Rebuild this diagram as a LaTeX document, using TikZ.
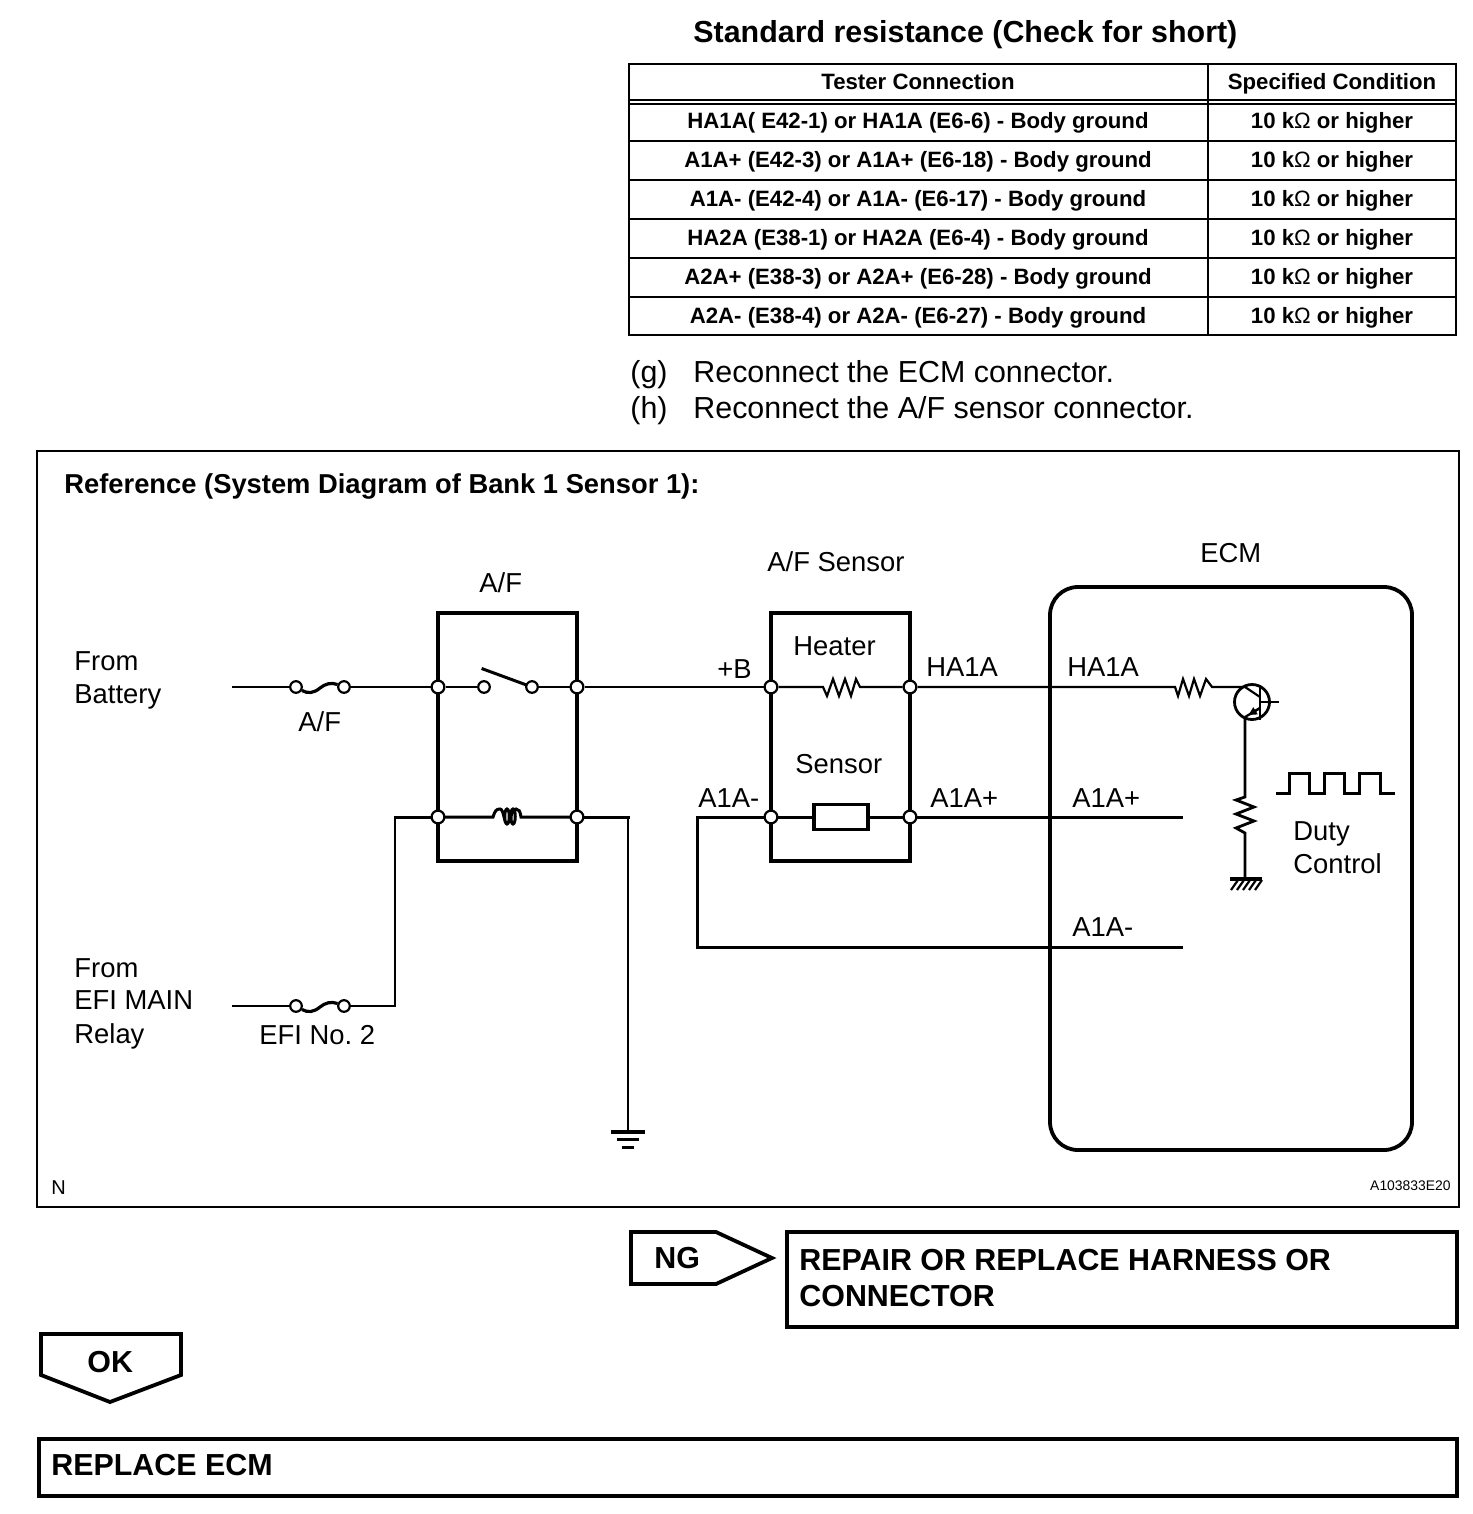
\documentclass[tikz,border=0pt]{standalone}
\usepackage{fontspec}
\setmainfont{Liberation Sans}
\usetikzlibrary{arrows.meta}
\frenchspacing
\tikzset{
  x=0.5pt,y=-0.5pt,
  wire/.style={line width=1.1pt,line join=miter},
  hwire/.style={line width=1.5pt,line join=miter,line cap=rect},
  frame/.style={line width=1.35pt},
  heavy/.style={line width=1.9pt,line join=miter},
  term/.style={circle,draw,fill=white,line width=1.1pt,minimum size=6.4pt,inner sep=0pt},
  lbl/.style={anchor=base west,inner sep=0pt,font=\fontsize{13.7}{16}\selectfont},
  tbl/.style={anchor=base,inner sep=0pt,font=\bfseries\fontsize{11.1}{13}\selectfont},
  para/.style={anchor=base west,inner sep=0pt,font=\fontsize{15.2}{18}\selectfont},
  bigb/.style={anchor=base west,inner sep=0pt,font=\bfseries\fontsize{15.2}{18}\selectfont},
}
\newcommand{\ohm}{{\mdseries Ω}}
\begin{document}
\begin{tikzpicture}
\useasboundingbox (0,0) rectangle (1472,1514);
\fill[white] (0,0) rectangle (1472,1514);
% ---------- table
\node[bigb] (title) at (693,43) {Standard resistance (Check for short)};
\draw[frame] (629,64) rectangle (1456,335);
\draw[frame] (1208,64) -- (1208,335);
\draw[line width=1pt] (629,100.5) -- (1456,100.5) (629,104) -- (1456,104);
\draw[frame] (629,141) -- (1456,141);
\draw[line width=.8pt] (629,180) -- (1456,180);
\draw[frame] (629,219) -- (1456,219);
\draw[line width=.8pt] (629,258) -- (1456,258);
\draw[line width=.8pt] (629,297) -- (1456,297);
\node[tbl] (h1) at (918,90) {Tester Connection};
\node[tbl] (h2) at (1332,90) {Specified Condition};
\node[tbl] (r1) at (918,129) {HA1A( E42-1) or HA1A (E6-6) - Body ground};
\node[tbl] (r2) at (918,168) {A1A+ (E42-3) or A1A+ (E6-18) - Body ground};
\node[tbl] (r3) at (918,207) {A1A- (E42-4) or A1A- (E6-17) - Body ground};
\node[tbl] (r4) at (918,246) {HA2A (E38-1) or HA2A (E6-4) - Body ground};
\node[tbl] (r5) at (918,285) {A2A+ (E38-3) or A2A+ (E6-28) - Body ground};
\node[tbl] (r6) at (918,323) {A2A- (E38-4) or A2A- (E6-27) - Body ground};
\node[tbl] (v1) at (1332,129) {10 k\ohm{} or higher};
\node[tbl] (v2) at (1332,168) {10 k\ohm{} or higher};
\node[tbl] (v3) at (1332,207) {10 k\ohm{} or higher};
\node[tbl] (v4) at (1332,246) {10 k\ohm{} or higher};
\node[tbl] (v5) at (1332,285) {10 k\ohm{} or higher};
\node[tbl] (v6) at (1332,323) {10 k\ohm{} or higher};
\node[para] (g1) at (630,382) {(g)};
\node[para] (g2) at (693,382) {Reconnect the ECM connector.};
\node[para] (h1t) at (630,418) {(h)};
\node[para] (h2t) at (693,418) {Reconnect the A/F sensor connector.};
% ---------- frame
\draw[frame] (37,451) rectangle (1459,1207);
\node[anchor=base west,inner sep=0pt,font=\bfseries\fontsize{13.67}{16}\selectfont] (reft) at (64,493) {Reference (System Diagram of Bank 1 Sensor 1):};
\node[anchor=base west,inner sep=0pt,font=\fontsize{10}{12}\selectfont] (nn) at (51,1194) {N};
\node[anchor=base east,inner sep=0pt,font=\fontsize{6.95}{8}\selectfont] (code) at (1451,1190) {A103833E20};
% boxes
\draw[heavy] (438,613) rectangle (577,861);
\draw[heavy] (771,613) rectangle (910,861);
\draw[heavy,rounded corners=14pt] (1050,587) rectangle (1412,1150);
% terminals
\node[term] (r1l) at (438,687) {};
\node[term] (r1r) at (577,687) {};
\node[term] (r2l) at (438,817) {};
\node[term] (r2r) at (577,817) {};
\node[term] (s1l) at (771,687) {};
\node[term] (s1r) at (910,687) {};
\node[term] (s2l) at (771,817) {};
\node[term] (s2r) at (910,817) {};
\node[term,minimum size=5.8pt] (f1a) at (296,687) {};
\node[term,minimum size=5.8pt] (f1b) at (344,687) {};
\node[term,minimum size=5.8pt] (f2a) at (296,1006) {};
\node[term,minimum size=5.8pt] (f2b) at (344,1006) {};
\node[term,minimum size=5.8pt] (swa) at (484,687) {};
\node[term,minimum size=5.8pt] (swb) at (532,687) {};
\coordinate (bat) at (232,687);
\coordinate (efi) at (232,1006);
\coordinate (gnd) at (628,1132);
\coordinate (cor1) at (395,817);
\coordinate (cor2) at (395,1006);
\coordinate (cor3) at (628,817);
\coordinate (cor4) at (697,817);
\coordinate (cor5) at (697,947);
\coordinate (aplus) at (1181,817);
\coordinate (aminus) at (1181,947);
% wires
\draw[wire] (bat) -- (f1a);
\draw[line width=1.6pt] (f1a) .. controls (308,694) and (314,693) .. (320,688) .. controls (325,684) and (331,682) .. (f1b);
\draw[wire] (f1b) -- (r1l);
\draw[wire] (r1l) -- (swa);
\draw[wire] (swb) -- (r1r);
\draw[hwire] (483,669) -- (swb);
\draw[wire] (r1r) -- (s1l);
\draw[wire] (efi) -- (f2a);
\draw[line width=1.6pt] (f2a) .. controls (308,1013) and (314,1012) .. (320,1007) .. controls (325,1003) and (331,1001) .. (f2b);
\draw[wire] (f2b) -- (cor2) -- (cor1);
\draw[hwire] (cor1) -- (r2l);
\draw[hwire] (r2l) -- (493,817) .. controls (495,811) and (496,809) .. (500,809)
  .. controls (504,809) and (504,824) .. (507,824) .. controls (510,824) and (510,809) .. (507,809)
  .. controls (504,809) and (504,824) .. (507,824) .. controls (510,824) and (510,809) .. (513,809)
  .. controls (516,809) and (516,824) .. (513,824) .. controls (510,824) and (510,809) .. (516,809)
  .. controls (519,809) and (520,811) .. (521,817) -- (r2r);
\draw[hwire] (r2r) -- (cor3);
\draw[wire] (cor3) -- (gnd);
\draw[line width=1.7pt] (611,1132) -- (645,1132);
\draw[line width=1.5pt] (617,1139.5) -- (639,1139.5);
\draw[line width=1.5pt] (622,1147) -- (634,1147);
% heater
\draw[wire] (s1l) -- (823,687) -- (827,696) -- (833,679) -- (839,696) -- (845,679) -- (851,696) -- (856,679) -- (860,687) -- (s1r);
% sensor element
\node[draw,heavy,minimum width=27pt,minimum height=12.5pt,inner sep=0pt] (selem) at (841,817) {};
\draw[hwire] (s2l) -- (selem);
\draw[hwire] (selem) -- (s2r);
\draw[hwire] (s2r) -- (aplus);
\draw[hwire] (s2l) -- (cor4) -- (cor5) -- (aminus);
% ecm inner
\node[circle,draw,line width=1.4pt,minimum size=17.5pt,inner sep=0pt] (q) at (1252,702) {};
\coordinate (qc) at (1245,687);
\coordinate (qe) at (1245,717);
\coordinate (qb) at (1279,702);
\draw[wire] (s1r) -- (1175,687) -- (1178,696) -- (1183,679) -- (1189,696) -- (1194,679) -- (1200,696) -- (1206,679) -- (1212,687) -- (qc);
\draw[wire] (qc) -- (1260,697);
\draw[line width=1.4pt] (1260,685) -- (1260,720);
\draw[wire] (1260,702) -- (qb);
\draw[wire] (1260,708) -- (qe);
\draw[wire,-{Latex[length=5pt,width=4.5pt]}] (1260,708) -- (1247,716);
\coordinate (rtop) at (1245,797);
\coordinate (rbot) at (1245,833);
\coordinate (gr) at (1245,879);
\draw[line width=1.4pt,line join=miter] (qe) -- (rtop) -- (1236,800) -- (1254,807) -- (1236,814) -- (1254,821) -- (1236,828) -- (rbot) -- (gr);
\draw[line width=1.7pt] (1230,879) -- (1262,879);
\foreach \i in {0,1,2,3,4}{\draw[wire] (1238+\i*6,880) -- (1231+\i*6,890);}
\coordinate (p0) at (1276,793);
\coordinate (p1) at (1395,793);
\draw[hwire,line cap=butt] (p0) -- (1289,793) -- (1289,773) -- (1309,773) -- (1309,793) -- (1324,793) -- (1324,773) -- (1344,773) -- (1344,793) -- (1359,793) -- (1359,773) -- (1380,773) -- (1380,793) -- (p1);
% labels
\node[lbl] at (74,670) (t1) {From};
\node[lbl] at (74,703) (t2) {Battery};
\node[lbl] at (74,977) (t3) {From};
\node[lbl] at (74,1009) (t4) {EFI MAIN};
\node[lbl] at (74,1043) (t5) {Relay};
\node[lbl] at (298,731) (t6) {A/F};
\node[lbl] at (259,1044) (t7) {EFI No. 2};
\node[lbl] at (479,592) (t8) {A/F};
\node[lbl] at (767,571) (t9) {A/F Sensor};
\node[lbl] at (1200,562) (t10) {ECM};
\node[lbl] at (793,655) (t11) {Heater};
\node[lbl] at (795,773) (t12) {Sensor};
\node[lbl] at (717,678) (t13) {+B};
\node[lbl] at (926,676) (t14) {HA1A};
\node[lbl] at (1067,676) (t15) {HA1A};
\node[lbl] at (698,807) (t16) {A1A-};
\node[lbl] at (930,807) (t17) {A1A+};
\node[lbl] at (1072,807) (t18) {A1A+};
\node[lbl] at (1072,936) (t19) {A1A-};
\node[lbl] at (1293,840) (t20) {Duty};
\node[lbl] at (1293,873) (t21) {Control};
% ---------- bottom
\draw[heavy] (631,1232) -- (716,1232) -- (772,1258) -- (716,1284) -- (631,1284) -- cycle;
\node[bigb] (ng) at (654,1268) {NG};
\draw[heavy] (787,1232) rectangle (1457,1327);
\node[bigb] (rep1) at (799,1270) {REPAIR OR REPLACE HARNESS OR};
\node[bigb] (rep2) at (799,1306) {CONNECTOR};
\draw[heavy] (41,1334) -- (181,1334) -- (181,1375) -- (110,1402) -- (41,1375) -- cycle;
\node[bigb] (ok) at (87,1372) {OK};
\draw[heavy] (39,1439) rectangle (1457,1496);
\node[bigb] (repe) at (51,1475) {REPLACE ECM};
\end{tikzpicture}
\end{document}
